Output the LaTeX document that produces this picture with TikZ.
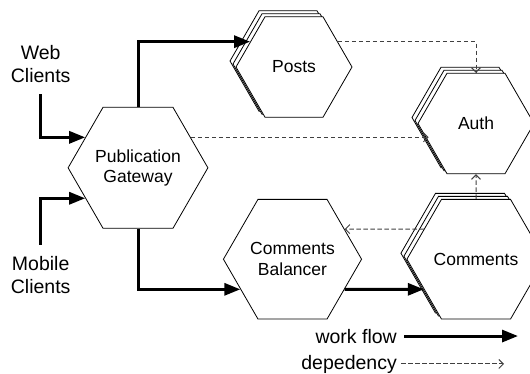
\documentclass[tikz,border=0pt]{standalone}
\usepackage{fontspec}
\setmainfont{Liberation Sans}
\usetikzlibrary{shapes.geometric,arrows.meta}
\begin{document}
\begin{tikzpicture}[x=1pt,y=-1pt,
  hexa/.style={regular polygon, regular polygon sides=6, minimum size=116pt,
    inner sep=0pt, draw=black, line width=0.8pt, fill=white, align=center,
    font={\fontsize{17.5}{20.5}\selectfont}},
  stacked/.style={
    preaction={draw=black, line width=0.8pt, fill=white, transform canvas={shift={(-6pt,6pt)}}},
    preaction={draw=black, line width=0.8pt, fill=white, transform canvas={shift={(-3pt,3pt)}}}},
  lbl/.style={align=center, font={\fontsize{19.5}{23.5}\selectfont}, inner xsep=2pt, inner ysep=11pt},
  legend/.style={font={\fontsize{19.5}{23.5}\selectfont}, inner sep=0pt, anchor=base east},
  flow/.style={line width=3pt, -{Triangle[length=16pt,width=12pt]}},
  dep/.style={line width=1pt, black!75, dash pattern=on 4.5pt off 2.5pt,
    -{Straight Barb[length=4.5pt,width=9pt]}},
]
\useasboundingbox (0,0) rectangle (530,373);

% nodes
\node[hexa] (G) at (138,167.8) {Publication\\Gateway};
\node[hexa, stacked] (P) at (294,67) {Posts};
\node[hexa, stacked] (A) at (476,123.5) {Auth};
\node[hexa] (B) at (292.5,259.2) {Comments\\Balancer};
\node[hexa, stacked] (C) at (476,259.2) {Comments};

\node[lbl] (web) at (40.7,64) {Web\\Clients};
\node[lbl] (mob) at (40.7,275) {Mobile\\Clients};

% work flow
\draw[flow] (web.south) |- (G.150);
\draw[flow] (mob.north) |- (G.210);
\draw[flow] (G.north) |- (P.150);
\draw[flow] (G.south) |- (B.210);
\draw[flow] (B.330) -- (C.210);

% dependencies
\draw[dep] (P.30) -| (A.north);
\draw[dep] (G.30) -- (G.30 -| A.202);
\draw[dep] (C.150) -- (B.30);
\draw[dep] (C.north) -- (A.south);

% legend
\node[legend] (wf) at (397,343) {work flow};
\coordinate (wfe) at (518,336);
\draw[flow] ([xshift=7pt]wf.east) -- (wf.east -| wfe);
\node[legend] (dp) at (397,369) {depedency};
\coordinate (dpe) at (504,364);
\draw[dep] ([xshift=4pt]dp.east) -- (dp.east -| dpe);
\end{tikzpicture}
\end{document}
